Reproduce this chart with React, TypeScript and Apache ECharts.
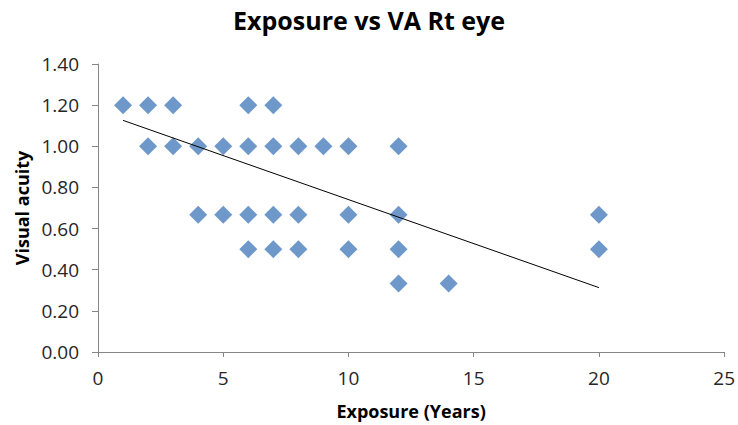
import React, { useEffect, useRef } from "react";
import * as echarts from "echarts";

const titleText = "Exposure vs VA Rt eye";
const xAxisName = "Exposure (Years)";
const yAxisName = "Visual acuity";

const exposureYears = [
  1, 2, 3, 6, 7,
  2, 3, 4, 5, 6, 7, 8, 9, 10, 12,
  4, 5, 6, 7, 8, 10, 12, 20,
  6, 7, 8, 10, 12, 20,
  12, 14,
];
const visualAcuity = [
  1.2, 1.2, 1.2, 1.2, 1.2,
  1.0, 1.0, 1.0, 1.0, 1.0, 1.0, 1.0, 1.0, 1.0, 1.0,
  0.667, 0.667, 0.667, 0.667, 0.667, 0.667, 0.667, 0.667,
  0.5, 0.5, 0.5, 0.5, 0.5, 0.5,
  0.333, 0.333,
];
const trendX = [1, 20];
const trendY = [1.126, 0.313];

const FONT = "'Open Sans', 'Liberation Sans', sans-serif";

export default function App() {
  const ref = useRef<HTMLDivElement>(null);
  useEffect(() => {
    if (!ref.current) return;
    const chart = echarts.init(ref.current, undefined, { renderer: "svg" });
    const points = exposureYears.map((x, i) => [x, visualAcuity[i]]);
    const trend = trendX.map((x, i) => [x, trendY[i]]);
    chart.setOption({
      animation: false,
      backgroundColor: "#ffffff",
      title: {
        text: titleText,
        left: "center",
        top: 2,
        textStyle: { fontFamily: FONT, fontSize: 25, fontWeight: "bold", color: "#000000" },
      },
      grid: { left: 98, right: 8, top: 64, bottom: 73 },
      xAxis: {
        type: "value",
        min: 0,
        max: 25,
        interval: 5,
        name: xAxisName,
        nameLocation: "middle",
        nameGap: 50,
        nameTextStyle: { fontFamily: FONT, fontSize: 18, fontWeight: "bold", color: "#000000" },
        axisLine: { show: true, lineStyle: { color: "#868686", width: 1 } },
        axisTick: { show: true, inside: false, length: 5, lineStyle: { color: "#868686" } },
        axisLabel: { fontFamily: FONT, fontSize: 19, color: "#262626", margin: 16 },
        splitLine: { show: false },
      },
      yAxis: {
        type: "value",
        min: 0,
        max: 1.4,
        interval: 0.2,
        name: yAxisName,
        nameLocation: "middle",
        nameGap: 67,
        nameRotate: 90,
        nameTextStyle: { fontFamily: FONT, fontSize: 18, fontWeight: "bold", color: "#000000" },
        axisLine: { show: true, lineStyle: { color: "#868686", width: 1 } },
        axisTick: { show: true, inside: false, length: 6, lineStyle: { color: "#868686" } },
        axisLabel: {
          fontFamily: FONT,
          fontSize: 19,
          color: "#262626",
          margin: 19,
          formatter: (v: number) => v.toFixed(2),
        },
        splitLine: { show: false },
      },
      series: [
        {
          type: "scatter",
          data: points,
          symbol: "diamond",
          symbolSize: 18,
          itemStyle: { color: "#4A7EBB" },
          z: 2,
        },
        {
          type: "line",
          data: trend,
          symbol: "none",
          lineStyle: { color: "#000000", width: 1 },
          z: 3,
        },
      ],
    });
    return () => chart.dispose();
  }, []);
  return <div ref={ref} style={{ width: 738, height: 425, position: "absolute", left: 0, top: 0 }} />;
}
